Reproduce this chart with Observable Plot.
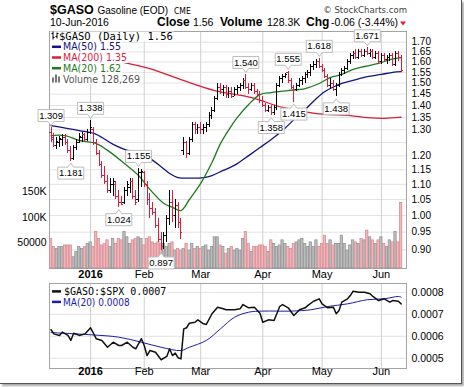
<!DOCTYPE html>
<html>
<head>
<meta charset="utf-8">
<script src="https://cdn.jsdelivr.net/npm/d3@7"></script>
<script src="https://cdn.jsdelivr.net/npm/@observablehq/plot@0.6"></script>
<style>
html, body { margin: 0; padding: 0; background: #fff; }
#wrap { position: relative; width: 464px; height: 387px; overflow: hidden; background: #fff; }
#wrap svg { position: absolute; left: 0; top: 0; max-width: none; }
#edge { position: absolute; left: 0; top: 0; width: 462px; height: 384px; box-sizing: border-box;
  border-right: 1px solid #555; border-bottom: 1px solid #555; box-shadow: 2px 2px 2px rgba(0,0,0,0.35); }
</style>
</head>
<body>
<div id="wrap"><div id="edge"></div></div>
<script>
// ---------- data ----------
const monthIdx = [14, 33, 53, 75, 96, 117];
const monthLab = ["2016", "Feb", "Mar", "Apr", "May", "Jun"];
const priceGrid = [0.90,0.95,1.00,1.05,1.10,1.15,1.20,1.25,1.30,1.35,1.40,1.45,1.50,1.55,1.60,1.65,1.70];
const priceLabels = [0.90,0.95,1.00,1.05,1.10,1.15,1.20,1.30,1.35,1.40,1.45,1.50,1.55,1.60,1.65,1.70];
const volTicks = [50000, 100000, 150000];
const volLabels = ["50000", "100K", "150K"];
const ratioTicks = [0.0005, 0.0006, 0.0007, 0.0008];

const opens = [1.29,1.27,1.24,1.25,1.26,1.27,1.25,1.22,1.19,1.23, 1.25,1.27,1.28,1.26,1.29,1.30,1.25,1.21,1.17,1.13,
 1.11,1.08,1.10,1.10,1.06,1.04,1.04,1.08,1.09,1.11, 1.06,1.05,1.14,1.14,1.10,1.05,1.02,1.01,0.97,0.93,
 0.91,0.94,0.99,1.04,1.00,1.03,0.98,1.22,1.25,1.21, 1.26,1.32,1.30,1.31,1.30,1.31,1.32,1.36,1.38,1.43,
 1.48,1.47,1.48,1.45,1.46,1.44,1.47,1.48,1.49,1.51, 1.48,1.47,1.49,1.46,1.45,1.42,1.40,1.38,1.39,1.37,
 1.39,1.49,1.52,1.53,1.55,1.51,1.48,1.47,1.49,1.51, 1.52,1.54,1.55,1.58,1.59,1.60,1.58,1.56,1.53,1.49,
 1.50,1.47,1.49,1.54,1.56,1.57,1.60,1.63,1.64,1.62, 1.65,1.63,1.65,1.64,1.65,1.62,1.64,1.60,1.63,1.61,
 1.62,1.63,1.59,1.64,1.62];
const highs = [1.309,1.285,1.27,1.275,1.28,1.28,1.26,1.235,1.24,1.26, 1.285,1.29,1.285,1.30,1.338,1.31,1.26,1.22,1.18,1.16,
 1.13,1.12,1.12,1.11,1.08,1.06,1.09,1.11,1.12,1.12, 1.08,1.155,1.15,1.145,1.11,1.07,1.04,1.02,0.99,0.95,
 0.95,1.00,1.08,1.08,1.05,1.04,0.99,1.27,1.255,1.27, 1.33,1.33,1.32,1.33,1.32,1.33,1.37,1.39,1.44,1.50,
 1.50,1.49,1.49,1.48,1.48,1.48,1.49,1.50,1.52,1.54, 1.50,1.50,1.50,1.47,1.46,1.44,1.41,1.40,1.40,1.40,
 1.50,1.53,1.54,1.545,1.555,1.52,1.49,1.50,1.52,1.53, 1.55,1.56,1.59,1.60,1.61,1.618,1.59,1.57,1.54,1.52,
 1.51,1.50,1.55,1.57,1.58,1.61,1.64,1.65,1.66,1.66, 1.66,1.66,1.671,1.66,1.66,1.65,1.65,1.64,1.64,1.63,
 1.64,1.64,1.65,1.65,1.63];
const lows = [1.25,1.23,1.225,1.23,1.235,1.24,1.21,1.181,1.185,1.22, 1.245,1.25,1.25,1.255,1.28,1.24,1.20,1.16,1.12,1.10,
 1.07,1.07,1.06,1.05,1.024,1.03,1.035,1.06,1.07,1.05, 1.03,1.04,1.09,1.09,1.03,0.99,1.00,0.96,0.92,0.897,
 0.90,0.92,0.97,0.98,0.96,0.96,0.93,1.20,1.19,1.20, 1.25,1.28,1.28,1.28,1.28,1.29,1.31,1.34,1.37,1.42,
 1.45,1.44,1.43,1.43,1.43,1.44,1.45,1.46,1.47,1.47, 1.45,1.46,1.45,1.44,1.41,1.39,1.37,1.37,1.358,1.36,
 1.38,1.48,1.50,1.52,1.50,1.47,1.415,1.46,1.48,1.49, 1.50,1.52,1.53,1.56,1.57,1.57,1.55,1.52,1.48,1.47,
 1.46,1.438,1.48,1.53,1.54,1.56,1.59,1.61,1.61,1.61, 1.62,1.62,1.63,1.62,1.61,1.61,1.59,1.59,1.60,1.59,
 1.60,1.58,1.58,1.60,1.55];
const closes = [1.26,1.24,1.255,1.265,1.27,1.25,1.22,1.19,1.23,1.25, 1.275,1.28,1.26,1.29,1.31,1.25,1.21,1.17,1.13,1.11,
 1.08,1.10,1.11,1.06,1.04,1.035,1.08,1.10,1.11,1.06, 1.04,1.14,1.145,1.10,1.05,1.02,1.01,0.97,0.93,0.91,
 0.94,0.99,1.04,1.00,1.03,0.98,0.95,1.25,1.21,1.26, 1.32,1.30,1.31,1.30,1.31,1.32,1.36,1.38,1.43,1.48,
 1.47,1.48,1.45,1.46,1.44,1.47,1.48,1.49,1.51,1.48, 1.47,1.49,1.46,1.45,1.42,1.40,1.38,1.39,1.37,1.39,
 1.49,1.52,1.53,1.54,1.51,1.48,1.47,1.49,1.51,1.52, 1.54,1.55,1.58,1.59,1.60,1.58,1.56,1.53,1.49,1.50,
 1.47,1.49,1.54,1.56,1.57,1.60,1.63,1.64,1.62,1.65, 1.63,1.65,1.64,1.65,1.62,1.64,1.60,1.63,1.61,1.62,
 1.63,1.59,1.64,1.62,1.56];
const volumesK = [58,42,38,42,42,45,45,45,22,32, 42,38,42,48,51,42,71,58,45,48,
 55,42,58,48,58,55,71,61,48,55, 58,61,58,45,58,61,51,48,51,48,
 48,42,48,51,35,38,35,38,48,35, 48,38,42,38,42,45,35,42,61,61,
 45,42,29,38,42,35,38,35,58,71, 48,32,42,42,45,45,42,32,55,48,
 42,45,55,48,42,38,48,51,55,58, 48,42,51,42,55,42,48,64,48,55,
 45,48,48,64,48,35,45,55,51,48, 58,55,74,61,55,48,55,61,48,42,
 55,51,71,51,128.269];

const ma50Idx = [0,10,16,22,26,32,35,39,42,45,50,54,57,61,64,66,70,74,78,82,86,90,94,97,100,103,108,112,117,121,124];
const ma50Val = [1.317,1.297,1.282,1.243,1.224,1.205,1.191,1.161,1.137,1.123,1.121,1.123,1.130,1.148,1.161,1.172,1.201,1.231,1.262,1.297,1.341,1.383,1.431,1.462,1.482,1.499,1.516,1.530,1.540,1.550,1.553];
const ma20Idx = [0,5,10,16,21,26,31,35,40,43,46,49,53,57,60,63,66,70,74,78,84,90,95,99,103,107,111,116,120,124];
const ma20Val = [1.277,1.277,1.258,1.246,1.213,1.172,1.130,1.083,1.037,1.025,1.015,1.050,1.103,1.176,1.246,1.301,1.350,1.405,1.448,1.457,1.466,1.475,1.498,1.526,1.540,1.564,1.578,1.593,1.612,1.622];
const ma200Idx = [26,35,46,58,71,82,94,106,112,118,124];
const ma200Val = [1.597,1.568,1.516,1.466,1.435,1.392,1.366,1.358,1.349,1.346,1.351];

const hiIdx = [0,14,31,69,84,95,112];
const hiVal = [1.309,1.338,1.155,1.540,1.555,1.618,1.671];
const loIdx = [7,24,39,78,86,101];
const loVal = [1.181,1.024,0.897,1.358,1.415,1.438];

const ratioIdx = [0,1,3,4,6,7,8,10,12,14,16,18,20,22,24,25,27,29,30,32,33,34,35,37,39,41,42,43,44,45,46,47,48,49,51,52,54,55,57,59,61,62,65,67,68,70,72,74,75,77,79,81,82,84,86,88,90,91,93,95,96,98,100,101,102,103,105,106,107,109,111,113,114,116,118,120,121,123,124];
const ratioVal = [0.000630,0.000611,0.000604,0.000619,0.000604,0.000581,0.000614,0.000604,0.000611,0.000639,
 0.000589,0.000581,0.000550,0.000573,0.000558,0.000558,0.000573,0.000550,0.000543,0.000589,
 0.000558,0.000512,0.000535,0.000527,0.000493,0.000508,0.000543,0.000512,0.000523,0.000502,
 0.000497,0.000634,0.000639,0.000660,0.000664,0.000675,0.000657,0.000654,0.000703,0.000733,
 0.000726,0.000721,0.000721,0.000726,0.000745,0.000730,0.000733,0.000705,0.000664,0.000675,
 0.000672,0.000736,0.000745,0.000730,0.000695,0.000721,0.000730,0.000741,0.000760,0.000771,
 0.000748,0.000730,0.000733,0.000703,0.000718,0.000756,0.000771,0.000786,0.000806,0.000801,
 0.000801,0.000794,0.000782,0.000763,0.000771,0.000756,0.000763,0.000760,0.000748];
const ratioMaIdx = [0,14,24,32,39,46,49,55,60,65,70,75,85,92,98,105,112,118,123,124];
const ratioMaVal = [0.000617,0.000607,0.000596,0.000573,0.000550,0.000535,0.000550,0.000581,0.000634,0.000687,0.000710,0.000715,0.000715,0.000721,0.000736,0.000748,0.000767,0.000771,0.000782,0.000779];

// ---------- scales / styling ----------
const X_DOMAIN = [-0.55, 125.9];
const PRICE_DOMAIN = [0.85, 1.7566];
const VOL_DOMAIN = [0, 462900];
const RATIO_DOMAIN = [0.000453, 0.000841];

const SANS = "'Liberation Sans', Arial, sans-serif";
const COND = "'DejaVu Sans Condensed', 'DejaVu Sans', sans-serif";
const MONO = "'DejaVu Sans Mono', monospace";
const RED = "#dc1c3c", NAVY = "#14147e", GREEN = "#1f7a1f", BLUE = "#1c1cb0";

const N = Math.min(opens.length, highs.length, lows.length, closes.length, volumesK.length);
const bars = d3.range(N).map(i => ({
  i, o: opens[i], h: highs[i], l: lows[i], c: closes[i], v: volumesK[i] * 1000,
  down: i === 0 ? closes[0] < opens[0] : closes[i] < closes[i - 1]
}));
const upBars = bars.filter(d => !d.down), dnBars = bars.filter(d => d.down);
const pts = (idx, val) => idx.map((i, k) => ({i, v: val[k]}));
const ma50 = pts(ma50Idx, ma50Val), ma20 = pts(ma20Idx, ma20Val), ma200 = pts(ma200Idx, ma200Val);
const hiPts = pts(hiIdx, hiVal), loPts = pts(loIdx, loVal);
const ratio = pts(ratioIdx, ratioVal), ratioMa = pts(ratioMaIdx, ratioMaVal);
const monthName = d => monthLab[monthIdx.indexOf(d)];

function frame(height, mt, mb) {
  return {width: 464, height, marginLeft: 49, marginRight: 58, marginTop: mt, marginBottom: mb,
    style: {background: "transparent", fontFamily: SANS, fontSize: "10px", color: "#000", overflow: "visible"}};
}
const H1 = 290;
const wrap = document.getElementById("wrap");

const bottomLabels = (dy) => [
  Plot.text(monthIdx.slice(0, 1), {x: d => d, text: monthName, frameAnchor: "bottom", dy, fontSize: 11, fontWeight: "bold", fill: "#000"}),
  Plot.text(monthIdx.slice(1), {x: d => d, text: monthName, frameAnchor: "bottom", dy, fontSize: 11, fill: "#000"})
];

// Layer A: grid, frame, labels of the price panel
const A = Plot.plot({...frame(H1, 31, H1 - 268),
  x: {domain: X_DOMAIN, axis: null, label: null},
  y: {type: "log", domain: PRICE_DOMAIN, axis: null, label: null},
  marks: [
    Plot.ruleY(priceGrid, {stroke: "#e3e3e3"}),
    Plot.ruleX(monthIdx, {stroke: "#cfcfcf"}),
    Plot.frame({stroke: "#a3a3a3"}),
    Plot.text(priceLabels, {y: d => d, text: d => d.toFixed(2), frameAnchor: "right", textAnchor: "start", dx: 5, fontSize: 10, fill: "#000"}),
    ...bottomLabels(9)
  ]
});
wrap.appendChild(A);

// Layer B: volume
const B = Plot.plot({...frame(H1, 31, H1 - 268),
  x: {domain: X_DOMAIN, axis: null, label: null},
  y: {domain: VOL_DOMAIN, axis: null, label: null},
  marks: [
    Plot.rect(upBars, {x1: d => d.i - 0.42, x2: d => d.i + 0.42, y1: 0, y2: "v", fill: "#bdbdbd", stroke: "#8e8e8e", strokeWidth: 0.7}),
    Plot.rect(dnBars, {x1: d => d.i - 0.42, x2: d => d.i + 0.42, y1: 0, y2: "v", fill: "#efb6bb", stroke: "#d9858e", strokeWidth: 0.7}),
    Plot.text(volTicks, {y: d => d, text: d => volLabels[volTicks.indexOf(d)], frameAnchor: "left", textAnchor: "end", dx: -3, fontSize: 10.5, fill: "#000"})
  ]
});
wrap.appendChild(B);

// Layer C: price bars, moving averages, annotations
const barMarks = (data, color) => [
  Plot.ruleX(data, {x: "i", y1: "l", y2: "h", stroke: color, strokeWidth: 1, shapeRendering: "crispEdges"}),
  Plot.ruleY(data, {y: "o", x1: d => d.i - 0.7, x2: "i", stroke: color, strokeWidth: 1, shapeRendering: "crispEdges"}),
  Plot.ruleY(data, {y: "c", x1: "i", x2: d => d.i + 0.7, stroke: color, strokeWidth: 1, shapeRendering: "crispEdges"})
];
// callout boxes (pointer + box), drawn as a marker shape around each labelled point
const calloutUp = {draw(ctx) {
  ctx.moveTo(0, -2); ctx.lineTo(3, -6); ctx.lineTo(13, -6); ctx.lineTo(13, -18);
  ctx.lineTo(-13, -18); ctx.lineTo(-13, -6); ctx.lineTo(-3, -6); ctx.closePath();
}};
const calloutDown = {draw(ctx) {
  ctx.moveTo(0, 2); ctx.lineTo(3, 6); ctx.lineTo(13, 6); ctx.lineTo(13, 18);
  ctx.lineTo(-13, 18); ctx.lineTo(-13, 6); ctx.lineTo(-3, 6); ctx.closePath();
}};
const labelMarks = (data, sym, dy) => [
  Plot.dot(data, {x: "i", y: "v", symbol: sym, r: 5, fill: "#fff", stroke: "#bcbcbc", strokeWidth: 1}),
  Plot.text(data, {x: "i", y: "v", text: d => d.v.toFixed(3), dy, fontSize: 9.5, fontFamily: SANS, fill: "#000"})
];
const C = Plot.plot({...frame(H1, 31, H1 - 268),
  x: {domain: X_DOMAIN, axis: null, label: null},
  y: {type: "log", domain: PRICE_DOMAIN, axis: null, label: null},
  marks: [
    Plot.line(ma200, {x: "i", y: "v", stroke: RED, strokeWidth: 1.3, curve: "catmull-rom"}),
    Plot.line(ma50, {x: "i", y: "v", stroke: NAVY, strokeWidth: 1.3, curve: "catmull-rom"}),
    Plot.line(ma20, {x: "i", y: "v", stroke: GREEN, strokeWidth: 1.3, curve: "catmull-rom"}),
    ...barMarks(upBars, "#000"),
    ...barMarks(dnBars, RED),
    ...labelMarks(hiPts, calloutUp, -12),
    ...labelMarks(loPts, calloutDown, 12)
  ]
});
wrap.appendChild(C);

// Lower panel: ratio
const H2 = 117;
const D = Plot.plot({...frame(H2, 13, 19),
  x: {domain: X_DOMAIN, axis: null, label: null},
  y: {domain: RATIO_DOMAIN, axis: null, label: null},
  marks: [
    Plot.ruleY(ratioTicks, {stroke: "#e3e3e3"}),
    Plot.ruleX(monthIdx, {stroke: "#cfcfcf"}),
    Plot.frame({stroke: "#a3a3a3"}),
    Plot.line(ratioMa, {x: "i", y: "v", stroke: BLUE, strokeWidth: 1, curve: "catmull-rom"}),
    Plot.line(ratio, {x: "i", y: "v", stroke: "#111", strokeWidth: 1.5}),
    Plot.text(ratioTicks, {y: d => d, text: d => d.toFixed(4), frameAnchor: "right", textAnchor: "start", dx: 5, fontSize: 10.5, fill: "#000"}),
    ...bottomLabels(6.5)
  ]
});
D.style.top = "270px";
wrap.appendChild(D);

// ---------- header and legends (text overlay) ----------
const ov = d3.select(wrap).append("svg").attr("width", 464).attr("height", 387).style("overflow", "visible");
function T(g, x, y, s, o = {}) {
  return g.append("text").attr("x", x).attr("y", y)
    .attr("font-family", o.f || SANS).attr("font-size", o.s || 11)
    .attr("font-weight", o.w || null).attr("fill", o.c || "#000")
    .attr("text-anchor", o.a || "start").text(s);
}
T(ov, 50, 13.5, "$GASO", {s: 12.5, w: "bold"});
T(ov, 97.5, 13.5, "Gasoline (EOD)", {s: 10});
T(ov, 174, 13.5, "CME", {s: 8.5, f: COND});
T(ov, 407, 12.5, "© StockCharts.com", {s: 9.5, f: COND, c: "#444", a: "end"});
T(ov, 50, 26.3, "10-Jun-2016", {s: 10.5});
T(ov, 157, 26.3, "Close", {s: 12, w: "bold"});
T(ov, 193, 26.3, "1.56", {s: 10.5});
T(ov, 220, 26.3, "Volume", {s: 12, w: "bold"});
T(ov, 267, 26.3, "128.3K", {s: 10.5});
T(ov, 306, 26.3, "Chg", {s: 12, w: "bold"});
T(ov, 331, 26.3, "-0.06 (-3.44%)", {s: 10.5});
ov.append("path").attr("d", "M400,21.5 L406,21.5 L403,25.5 Z").attr("fill", RED);

function legendRow(top, h, baseline, textX, s, o, icon) {
  const g = ov.append("g");
  const r = g.append("rect").attr("fill", "#fff");
  icon(g, baseline);
  const t = T(g, textX, baseline, s, o);
  const bb = t.node().getBBox();
  r.attr("x", 50).attr("y", top).attr("width", bb.x + bb.width + 1 - 50).attr("height", h);
}
const swatch = color => (g, b) => g.append("line").attr("x1", 52).attr("x2", 61)
  .attr("y1", b - 3.6).attr("y2", b - 3.6).attr("stroke", color).attr("stroke-width", 2.5);
const ohlcIcon = (g, b) => g.append("path")
  .attr("d", `M53,${b-8}V${b} M51.5,${b-6}H53 M53,${b-2}H54.5 M57,${b-7}V${b-1} M55.5,${b-3}H57 M57,${b-6}H58.5`)
  .attr("stroke", "#000").attr("fill", "none");
const volIcon = (g, b) => g.append("path")
  .attr("d", `M52,${b}V${b-5}H54V${b}Z M55,${b}V${b-8}H57V${b}Z M58,${b}V${b-6}H60V${b}Z`)
  .attr("fill", "#777");

legendRow(31.5, 10.3, 39.5, 59, "$GASO (Daily) 1.56", {f: MONO, s: 10.5}, ohlcIcon);
legendRow(41.8, 10.6, 50.4, 63, "MA(50) 1.55", {f: COND, s: 10.5, c: NAVY}, swatch(NAVY));
legendRow(52.4, 10.6, 61.1, 63, "MA(200) 1.35", {f: COND, s: 10.5, c: RED}, swatch(RED));
legendRow(63.0, 10.6, 71.8, 63, "MA(20) 1.62", {f: COND, s: 10.5, c: GREEN}, swatch(GREEN));
legendRow(73.6, 10.6, 82.5, 63, "Volume 128,269", {f: COND, s: 10.5, c: "#555"}, volIcon);

legendRow(286.5, 10.3, 295.0, 64, "$GASO:$SPX 0.0007", {f: MONO, s: 10}, swatch("#111"));
legendRow(296.8, 10.3, 305.5, 63, "MA(20) 0.0008", {f: COND, s: 10, c: BLUE}, swatch(BLUE));
</script>
</body>
</html>
